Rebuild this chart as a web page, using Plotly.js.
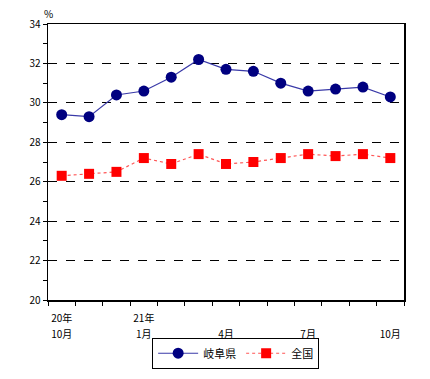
<!DOCTYPE html>
<html><head><meta charset="utf-8">
<script src="https://cdn.plot.ly/plotly-3.0.1.min.js"></script>
<style>html,body{margin:0;padding:0;background:#fff}#c{width:430px;height:379px}</style>
</head><body><div id="c"></div>
<script>
const months = ["20年10月","11月","12月","21年1月","2月","3月","4月","5月","6月","7月","8月","9月","10月"];
const gifu = [29.4, 29.3, 30.4, 30.6, 31.3, 32.2, 31.7, 31.6, 31.0, 30.6, 30.7, 30.8, 30.3];
const zenkoku = [26.3, 26.4, 26.5, 27.2, 26.9, 27.4, 26.9, 27.0, 27.2, 27.4, 27.3, 27.4, 27.2];
const monthTickPos = [0, 3, 6, 9, 12];
const monthTickLabels = ["10月", "1月", "4月", "7月", "10月"];
const yearTickPos = [0, 3];
const yearTickLabels = ["20年", "21年"];
const xIdx = months.map((m, i) => i);
const font = "'Noto Sans CJK JP', 'DejaVu Sans', sans-serif";

const traces = [
  {x: xIdx, y: gifu, name: "岐阜県", type: "scatter", mode: "lines+markers",
   text: months, line: {color: "#3a3aa8", width: 1.2},
   marker: {symbol: "circle", size: 11, color: "#000080"}},
  {x: xIdx, y: zenkoku, name: "全国", type: "scatter", mode: "lines+markers",
   text: months, line: {color: "#ff5555", width: 1.2, dash: "dot"},
   marker: {symbol: "square", size: 10, color: "#ff0000"}},
  {x: [], y: [], xaxis: "x2", showlegend: false, hoverinfo: "skip"}
];

const layout = {
  width: 430, height: 379,
  margin: {l: 48, r: 26, t: 24, b: 79, autoexpand: false},
  paper_bgcolor: "#fff", plot_bgcolor: "#fff",
  font: {family: font, size: 10, color: "#000"},
  showlegend: true,
  legend: {orientation: "h", x: 0.548, xanchor: "center", xref: "container",
           y: 0.068, yanchor: "middle", yref: "container",
           bordercolor: "#000", borderwidth: 1, font: {size: 11, family: font},
           tracegroupgap: 0, itemwidth: 40},
  xaxis: {range: [-0.5, 12.5], tickmode: "array", tickvals: monthTickPos, ticktext: monthTickLabels,
          ticks: "", showgrid: false, zeroline: false,
          showline: true, linecolor: "#000", linewidth: 1.5, mirror: true,
          tickfont: {size: 10}, ticklabelstandoff: 24,
          minor: {tickmode: "linear", tick0: -0.5, dtick: 1, ticks: "outside", ticklen: 4, tickcolor: "#000", showgrid: false}},
  xaxis2: {range: [-0.5, 12.5], overlaying: "x", anchor: "y", side: "bottom",
           tickmode: "array", tickvals: yearTickPos, ticktext: yearTickLabels,
           ticks: "", showgrid: false, zeroline: false, showline: false,
           tickfont: {size: 10}, ticklabelstandoff: 11},
  yaxis: {range: [20, 34], dtick: 2, tick0: 20, ticks: "outside", ticklen: 4, tickcolor: "#000",
          showgrid: true, gridcolor: "#000", griddash: "dash", gridwidth: 1,
          zeroline: false, showline: true, linecolor: "#000", linewidth: 1.5, mirror: true,
          tickfont: {size: 10},
          minor: {dtick: 1, ticks: "outside", ticklen: 4, tickcolor: "#000", showgrid: false}},
  annotations: [{text: "%", xref: "paper", yref: "paper", x: 0, y: 1, xanchor: "center", yanchor: "bottom",
                 showarrow: false, yshift: 1, font: {size: 10}}]
};
Plotly.newPlot("c", traces, layout, {displayModeBar: false, staticPlot: true});
</script></body></html>
